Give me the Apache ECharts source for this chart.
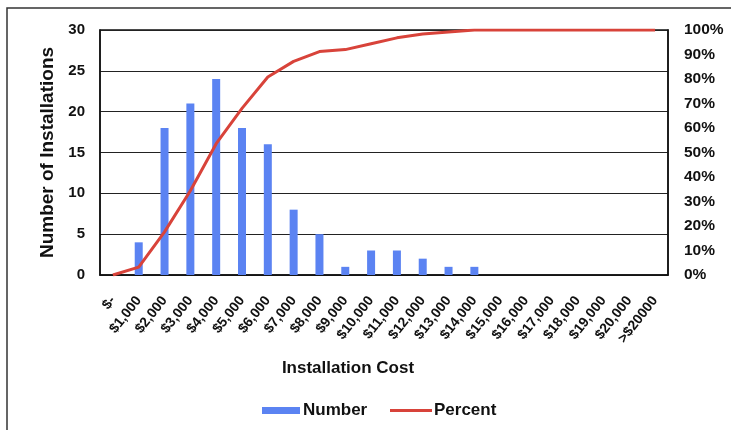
<!DOCTYPE html>
<html><head><meta charset="utf-8">
<script src="https://cdn.jsdelivr.net/npm/echarts@6/dist/echarts.min.js"></script>
<style>html,body{margin:0;padding:0;background:#fff}#c{width:731px;height:430px}</style>
</head><body><div id="c"></div>
<script>
const categories = ['$-','$1,000','$2,000','$3,000','$4,000','$5,000','$6,000','$7,000','$8,000','$9,000','$10,000','$11,000','$12,000','$13,000','$14,000','$15,000','$16,000','$17,000','$18,000','$19,000','$20,000','>$20000'];
const numberValues = [0,4,18,21,24,18,16,8,5,1,3,3,2,1,1,0,0,0,0,0,0,0];
const percentValues = [0,0.032,0.176,0.344,0.536,0.68,0.808,0.872,0.912,0.92,0.944,0.968,0.984,0.992,1,1,1,1,1,1,1,1];
const leftTicks = {min:0,max:30,interval:5};
const rightTicks = {min:0,max:1,interval:0.1};

const FONT = '"Liberation Sans", Arial, sans-serif';
const TXT = '#111';
const chart = echarts.init(document.getElementById('c'));
chart.setOption({
  animation:false,
  textStyle:{fontFamily:FONT},
  graphic:[
    {type:'rect',shape:{x:7,y:8,width:800,height:500},style:{fill:'none',stroke:'#333',lineWidth:1.5}},
    {type:'text',x:348,y:368,style:{text:'Installation Cost',font:'bold 17px '+FONT,fill:TXT,textAlign:'center',textVerticalAlign:'middle'}}
  ],
  grid:{left:100,right:63,top:30,bottom:155,show:true,borderColor:'#111',borderWidth:1.5},
  legend:[
    {data:[{name:'Number',icon:'rect'}],left:257,top:397,itemWidth:38,itemHeight:7,itemGap:4,padding:5,textStyle:{fontFamily:FONT,fontWeight:'bold',fontSize:17,color:TXT,padding:[0,0,0,-2]}},
    {data:[{name:'Percent',icon:'rect'}],left:385,top:397,itemWidth:42,itemHeight:3,padding:5,textStyle:{fontFamily:FONT,fontWeight:'bold',fontSize:17,color:TXT,padding:[0,0,0,-3]}}
  ],
  xAxis:{type:'category',data:categories,
    axisLine:{lineStyle:{color:'#111',width:1.5}},axisTick:{show:false},
    axisLabel:{interval:0,rotate:52,margin:23,fontFamily:FONT,fontWeight:'bold',fontSize:14,color:TXT}},
  yAxis:[
    {type:'value',min:leftTicks.min,max:leftTicks.max,interval:leftTicks.interval,
     name:'Number of Installations',nameLocation:'middle',nameRotate:90,nameGap:39,
     nameTextStyle:{fontFamily:FONT,fontWeight:'bold',fontSize:19,color:TXT},
     axisLine:{show:true,lineStyle:{color:'#111',width:1.5}},axisTick:{show:false},
     axisLabel:{margin:15,fontFamily:FONT,fontWeight:'bold',fontSize:15,color:TXT},
     splitLine:{lineStyle:{color:'#222',width:1.2}}},
    {type:'value',min:rightTicks.min,max:rightTicks.max,interval:rightTicks.interval,position:'right',
     axisLine:{show:true,lineStyle:{color:'#111',width:1.5}},axisTick:{show:false},
     axisLabel:{margin:16,fontFamily:FONT,fontWeight:'bold',fontSize:15.5,color:TXT,formatter:v=>Math.round(v*100)+'%'},
     splitLine:{show:false}}
  ],
  series:[
    {name:'Number',type:'bar',data:numberValues,barWidth:8,itemStyle:{color:'#5b83f2'}},
    {name:'Percent',type:'line',yAxisIndex:1,data:percentValues,symbol:'none',lineStyle:{color:'#d8433a',width:3},itemStyle:{color:'#d8433a'}}
  ]
});
</script></body></html>
